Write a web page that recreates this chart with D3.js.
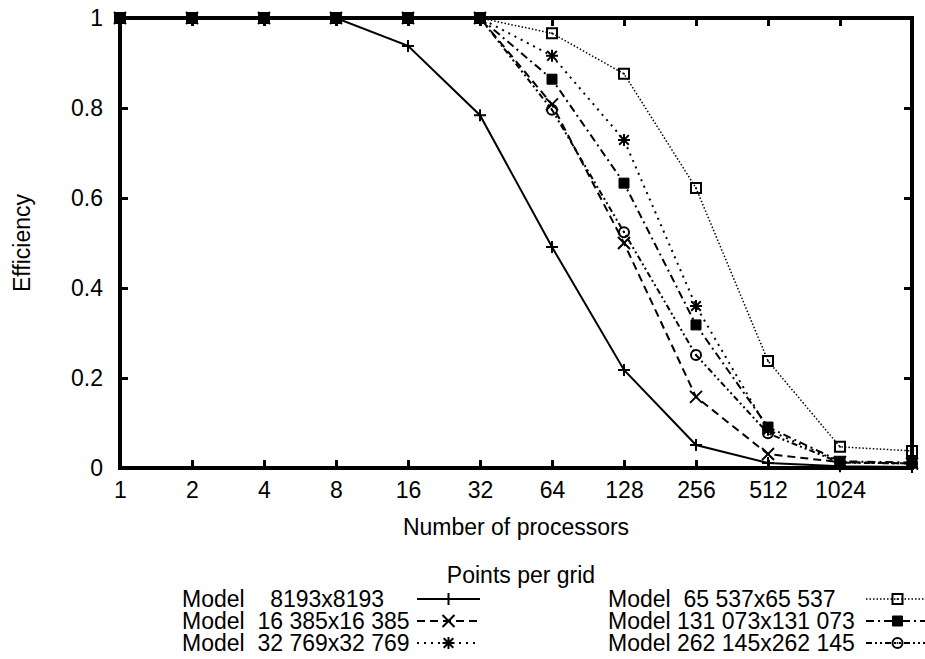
<!DOCTYPE html>
<html>
<head>
<meta charset="utf-8">
<script src="https://cdn.jsdelivr.net/npm/d3@7"></script>
<style>
  body { margin: 0; background: #fff; }
  text { font-family: "Liberation Sans", Arial, Helvetica, sans-serif; font-size: 23px; fill: #000; }
</style>
</head>
<body>
<div id="my_dataviz"></div>
<script>
// data
var procs = [1, 2, 4, 8, 16, 32, 64, 128, 256, 512, 1024, 2048];
var tickProcs = [1, 2, 4, 8, 16, 32, 64, 128, 256, 512, 1024];
var yTicks = [0, 0.2, 0.4, 0.6, 0.8, 1];

var eff8193   = [1, 1, 1, 1, 0.938, 0.784, 0.491, 0.218, 0.051, 0.011, 0.004, 0.002];
var eff16385  = [1, 1, 1, 1, 1, 1, 0.808, 0.500, 0.158, 0.031, 0.013, 0.010];
var eff32769  = [1, 1, 1, 1, 1, 1, 0.916, 0.729, 0.360, 0.085, 0.013, 0.010];
var eff65537  = [1, 1, 1, 1, 1, 1, 0.966, 0.876, 0.622, 0.238, 0.047, 0.038];
var eff131073 = [1, 1, 1, 1, 1, 1, 0.864, 0.633, 0.318, 0.091, 0.015, 0.012];
var eff262145 = [1, 1, 1, 1, 1, 1, 0.796, 0.524, 0.251, 0.077, 0.012, 0.010];

var labels = [
  "Model    8193x8193",
  "Model  16 385x16 385",
  "Model  32 769x32 769",
  "Model  65 537x65 537",
  "Model 131 073x131 073",
  "Model 262 145x262 145"
];

// styles per series (gnuplot-like)
var series = [
  {values: eff8193,   label: labels[0], dash: null,            width: 2,   marker: "plus"},
  {values: eff16385,  label: labels[1], dash: "8,5",           width: 2,   marker: "x"},
  {values: eff32769,  label: labels[2], dash: "2,5",           width: 2,   marker: "star"},
  {values: eff65537,  label: labels[3], dash: "1.5,2",         width: 1.5, marker: "box"},
  {values: eff131073, label: labels[4], dash: "8,4,2,4",       width: 2,   marker: "fbox"},
  {values: eff262145, label: labels[5], dash: "6,3,2,3,2,3",   width: 2,   marker: "circle"}
];

// set the dimensions and margins of the graph
var margin = {top: 18, right: 13, bottom: 191, left: 120},
    width = 925 - margin.left - margin.right,
    height = 659 - margin.top - margin.bottom;

var svg = d3.select("#my_dataviz")
    .append("svg")
    .attr("width", width + margin.left + margin.right)
    .attr("height", height + margin.top + margin.bottom)
    .append("g")
    .attr("transform", "translate(" + margin.left + "," + margin.top + ")");

var x = d3.scaleLog().base(2)
    .domain([1, 2048])
    .range([0, width]);

var y = d3.scaleLinear()
    .domain([0, 1])
    .range([height, 0]);

// marker shapes
function markerPath(type, s) {
  if (type == "plus") return "M" + (-s) + ",0H" + s + "M0," + (-s) + "V" + s;
  if (type == "x") return "M" + (-s) + "," + (-s) + "L" + s + "," + s + "M" + (-s) + "," + s + "L" + s + "," + (-s);
  if (type == "star") return markerPath("plus", s) + markerPath("x", s * 0.8);
  if (type == "box" || type == "fbox") return "M" + (-s) + "," + (-s) + "H" + s + "V" + s + "H" + (-s) + "Z";
  if (type == "circle") return "M" + s + ",0A" + s + "," + s + " 0 1,1 " + (-s) + ",0A" + s + "," + s + " 0 1,1 " + s + ",0Z";
}

function drawMarker(g, type, cx, cy) {
  var m = g.append("g").attr("transform", "translate(" + cx + "," + cy + ")");
  var s = (type == "circle") ? 5 : (type == "box" || type == "fbox") ? 5 : 6;
  m.append("path")
    .attr("d", markerPath(type, s))
    .attr("fill", type == "fbox" ? "#000" : "none")
    .attr("stroke", "#000")
    .attr("stroke-width", type == "fbox" ? 1 : 2);
  if (type == "box" || type == "circle") {
    m.append("circle").attr("r", 1).attr("fill", "#000");
  }
}

// ticks on all four sides, inward
var tickLen = 8;
svg.append("g")
    .attr("transform", "translate(0," + height + ")")
    .call(d3.axisBottom(x).tickValues(tickProcs).tickSize(-tickLen).tickPadding(14).tickFormat(d3.format("d")))
    .call(g => g.select(".domain").remove())
    .call(g => g.selectAll("line").attr("stroke-width", 3));
svg.append("g")
    .call(d3.axisTop(x).tickValues(tickProcs).tickSize(-tickLen).tickFormat(""))
    .call(g => g.select(".domain").remove())
    .call(g => g.selectAll("line").attr("stroke-width", 3));
svg.append("g")
    .call(d3.axisLeft(y).tickValues(yTicks).tickSize(-tickLen).tickPadding(17).tickFormat(d3.format("")))
    .call(g => g.select(".domain").remove())
    .call(g => g.selectAll("line").attr("stroke-width", 3));
svg.append("g")
    .attr("transform", "translate(" + width + ",0)")
    .call(d3.axisRight(y).tickValues(yTicks).tickSize(-tickLen).tickFormat(""))
    .call(g => g.select(".domain").remove())
    .call(g => g.selectAll("line").attr("stroke-width", 3));

svg.selectAll(".tick text")
    .style("font-family", "'Liberation Sans', Arial, sans-serif")
    .style("font-size", "23px")
    .attr("fill", "#000");

// border
svg.append("rect")
    .attr("x", 0).attr("y", 0)
    .attr("width", width).attr("height", height)
    .attr("fill", "none")
    .attr("stroke", "#000")
    .attr("stroke-width", 4);

// axis labels
svg.append("text")
    .attr("x", width / 2)
    .attr("y", height + 67)
    .style("text-anchor", "middle")
    .text("Number of processors");

svg.append("text")
    .attr("transform", "rotate(-90)")
    .attr("x", -height / 2)
    .attr("y", -margin.left + 30)
    .style("text-anchor", "middle")
    .text("Efficiency");

// lines + points
var line = d3.line()
    .x(function(d) { return x(d[0]); })
    .y(function(d) { return y(d[1]); });

series.forEach(function(s) {
  var pts = procs.map(function(p, i) { return [p, s.values[i]]; });
  svg.append("path")
      .datum(pts)
      .attr("d", line)
      .attr("fill", "none")
      .attr("stroke", "#000")
      .attr("stroke-width", s.width)
      .attr("stroke-dasharray", s.dash);
  var mg = svg.append("g");
  pts.forEach(function(p) { drawMarker(mg, s.marker, x(p[0]), y(p[1])); });
});

// legend
var legend = d3.select("svg").append("g");
legend.append("text")
    .attr("x", 521)
    .attr("y", 583)
    .style("text-anchor", "middle")
    .text("Points per grid");

var colX = [182, 608], sampleX = [[417, 480], [866, 929]], rowY = [607, 629, 651];
series.forEach(function(s, i) {
  var c = Math.floor(i / 3), r = i % 3;
  legend.append("text")
      .attr("x", colX[c])
      .attr("y", rowY[r])
      .attr("xml:space", "preserve")
      .style("white-space", "pre")
      .text(s.label);
  var ly = rowY[r] - 8;
  legend.append("line")
      .attr("x1", sampleX[c][0]).attr("x2", sampleX[c][1])
      .attr("y1", ly).attr("y2", ly)
      .attr("stroke", "#000")
      .attr("stroke-width", s.width)
      .attr("stroke-dasharray", s.dash);
  drawMarker(legend, s.marker, (sampleX[c][0] + sampleX[c][1]) / 2, ly);
});
</script>
</body>
</html>
